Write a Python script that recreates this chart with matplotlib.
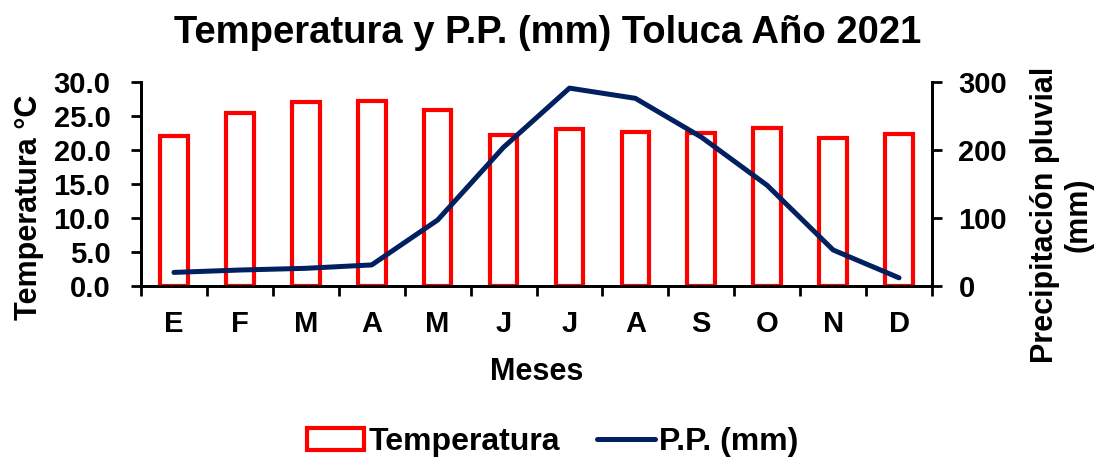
import matplotlib.pyplot as plt
import numpy as np

plt.rcParams['font.family'] = ['Liberation Sans', 'DejaVu Sans']
plt.rcParams['font.weight'] = 'bold'

meses = ['E', 'F', 'M', 'A', 'M', 'J', 'J', 'A', 'S', 'O', 'N', 'D']
temperatura = [22.0, 25.5, 27.0, 27.2, 25.9, 22.2, 23.1, 22.6, 22.5, 23.2, 21.8, 22.3]
precipitacion = [20, 23.5, 26, 31, 97, 204, 291, 276, 219, 148, 53, 12]

x = np.arange(len(meses))

fig = plt.figure(figsize=(11.01, 4.66), dpi=100)
ax = fig.add_axes([141 / 1101, 1 - 286 / 466, 791 / 1101, 204 / 466])
ax2 = ax.twinx()

# Barras de temperatura (solo borde)
ax.bar(x, temperatura, width=0.42, facecolor='white', edgecolor='#ff0000',
       linewidth=3, label='Temperatura', zorder=2)
# Linea de precipitacion
ax2.plot(x, precipitacion, color='#002060', linewidth=3.6,
         solid_capstyle='round', label='P.P. (mm)', zorder=3)

ax.set_xlim(-0.5, 11.5)
ax.set_ylim(0, 30)
ax2.set_ylim(0, 300)
ax.set_yticks(np.arange(0, 31, 5))
ax.set_yticklabels([f'{v:.1f}' for v in np.arange(0, 31, 5)])
ax2.set_yticks([0, 100, 200, 300])

ax.set_xticks(x)
ax.set_xticklabels(meses)
ax.set_xticks(np.arange(-0.5, 12, 1), minor=True)
ax.tick_params(axis='x', which='major', length=0, pad=17, labelsize=21)
ax.tick_params(axis='x', which='minor', length=7, width=2)
ax.tick_params(axis='y', length=7, width=2, pad=15, labelsize=21)
ax2.tick_params(axis='y', length=7, width=2, pad=12, labelsize=21)

for a in (ax, ax2):
    a.spines['top'].set_visible(False)
    for s in ('left', 'bottom', 'right'):
        a.spines[s].set_linewidth(2)
ax.patch.set_visible(False)
ax.set_zorder(ax2.get_zorder() - 1)
ax2.patch.set_visible(False)

ax.set_xlabel('Meses', fontsize=22, fontweight='bold', labelpad=14)
ax.set_ylabel('Temperatura °C', fontsize=22, fontweight='bold')
ax.yaxis.set_label_coords(-0.123, 0.387)
ax2.set_ylabel('Precipitación pluvial\n(mm)', fontsize=22, fontweight='bold',
               linespacing=1.15)
ax2.yaxis.set_label_coords(1.124, 0.35)

fig.text(0.497, 1 - 43 / 466, 'Temperatura y P.P. (mm) Toluca Año 2021',
         fontsize=27.5, fontweight='bold', ha='center', va='baseline')

h1, l1 = ax.get_legend_handles_labels()
h2, l2 = ax2.get_legend_handles_labels()
fig.legend(h1 + h2, l1 + l2, loc='center', bbox_to_anchor=(0.502, 1 - 442 / 466),
           ncol=2, frameon=False, fontsize=23, handlelength=1.8,
           handletextpad=0.15, columnspacing=1.15)

fig.savefig('out.png', dpi=100)
